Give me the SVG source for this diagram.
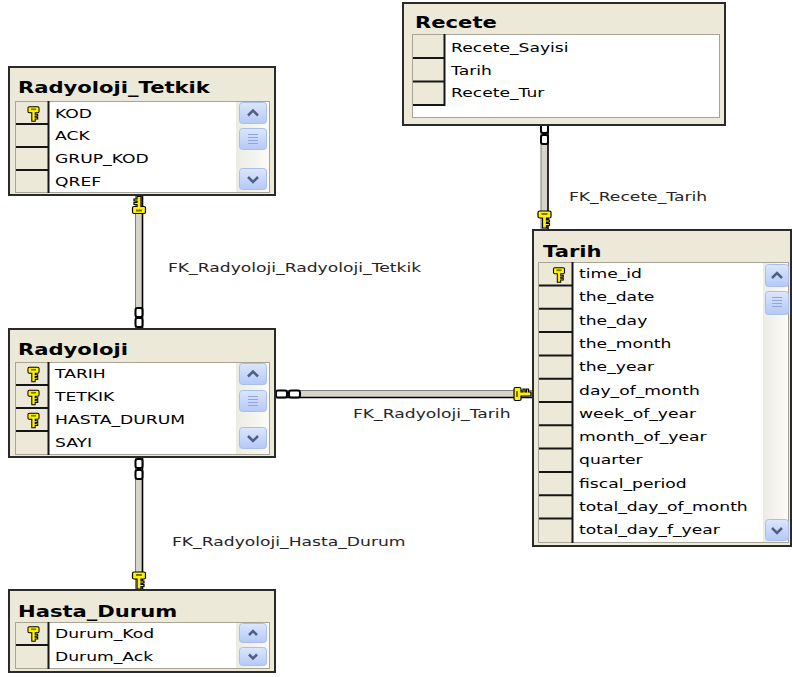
<svg xmlns="http://www.w3.org/2000/svg" xmlns:xlink="http://www.w3.org/1999/xlink" width="792" height="677" viewBox="0 0 792 677">
<defs>
<style>
.box{fill:#ECE9D8;stroke:#2a2a2a;stroke-width:2}
.grid{fill:#FFFFFF;stroke:#A8A596;stroke-width:1}
.kc{fill:#ECE9D8}
.sep{stroke:#161616;stroke-width:2}
.title{font-family:"DejaVu Sans","Liberation Sans",sans-serif;font-weight:bold;font-size:16px;fill:#000}
.row{font-family:"DejaVu Sans","Liberation Sans",sans-serif;font-size:13px;fill:#000}
.lbl{font-family:"DejaVu Sans","Liberation Sans",sans-serif;font-size:13px;fill:#262626}
.trk{fill:url(#trk)}
.btn{fill:url(#btn);stroke:#A9BEEB;stroke-width:1}
.arr{fill:none;stroke:#4D6185;stroke-width:2.5}
.grip{stroke:#8FA6DA;stroke-width:1}
.core{fill:#D7D4CB}
.edgeL{stroke:#808080;stroke-width:1}
.edgeD{stroke:#000;stroke-width:1.6}
.loop{fill:#FFFFFF;stroke:#000;stroke-width:2}
</style>
<linearGradient id="btn" x1="0" y1="0" x2="0" y2="1"><stop offset="0" stop-color="#DCE6FD"/><stop offset="1" stop-color="#B5C9F6"/></linearGradient>
<linearGradient id="trk" x1="0" y1="0" x2="1" y2="0"><stop offset="0" stop-color="#ECEBE3"/><stop offset="1" stop-color="#FBFBF8"/></linearGradient>
<g id="key"><path d="M-5,-8 h10 a1.5,1.5 0 0 1 1.5,1.5 v4 a1.5,1.5 0 0 1 -1.5,1.5 h-3 v2 h3 v2 h-3 v1.5 h3 v2 h-3 v2.5 h-4 v-10 h-3 a1.5,1.5 0 0 1 -1.5,-1.5 v-4 a1.5,1.5 0 0 1 1.5,-1.5 z" fill="#FFF200" stroke="#000" stroke-width="1.2"/><rect x="-3" y="-6" width="6" height="2" fill="#7a7400"/></g>
</defs>
<rect width="792" height="677" fill="#FFFFFF"/>

<g id="connectors">
  <!-- FK_Radyoloji_Radyoloji_Tetkik -->
  <rect class="core" x="135.5" y="195" width="7" height="134"/>
  <line class="edgeL" x1="135.5" y1="195" x2="135.5" y2="329"/>
  <line class="edgeD" x1="142.5" y1="195" x2="142.5" y2="329"/>
  <rect class="loop" x="135.5" y="308" width="7" height="9" rx="2"/>
  <rect class="loop" x="135.5" y="318" width="7" height="9" rx="2"/>
  <use xlink:href="#key" href="#key" transform="translate(139 205.5) rotate(180)"/>
  <text class="lbl" transform="translate(168 272) scale(1.32 1)">FK_Radyoloji_Radyoloji_Tetkik</text>

  <!-- FK_Recete_Tarih -->
  <rect class="core" x="541" y="125" width="7" height="105"/>
  <line class="edgeL" x1="541" y1="125" x2="541" y2="230"/>
  <line class="edgeD" x1="548" y1="125" x2="548" y2="230"/>
  <rect class="loop" x="541" y="124" width="7" height="9" rx="2"/>
  <rect class="loop" x="541" y="135" width="7" height="9" rx="2"/>
  <use xlink:href="#key" href="#key" transform="translate(544.5 219)"/>
  <text class="lbl" transform="translate(569 201) scale(1.32 1)">FK_Recete_Tarih</text>

  <!-- FK_Radyoloji_Tarih -->
  <rect class="core" x="275" y="390.5" width="258" height="7"/>
  <line class="edgeL" x1="275" y1="390.5" x2="533" y2="390.5"/>
  <line class="edgeD" x1="275" y1="397.5" x2="533" y2="397.5"/>
  <rect class="loop" x="276" y="390.5" width="11" height="7" rx="2"/>
  <rect class="loop" x="289" y="390.5" width="11" height="7" rx="2"/>
  <use xlink:href="#key" href="#key" transform="translate(522 394) rotate(-90)"/>
  <text class="lbl" transform="translate(353 418) scale(1.32 1)">FK_Radyoloji_Tarih</text>

  <!-- FK_Radyoloji_Hasta_Durum -->
  <rect class="core" x="135.5" y="457" width="7" height="133"/>
  <line class="edgeL" x1="135.5" y1="457" x2="135.5" y2="590"/>
  <line class="edgeD" x1="142.5" y1="457" x2="142.5" y2="590"/>
  <rect class="loop" x="135.5" y="459" width="7" height="9" rx="2"/>
  <rect class="loop" x="135.5" y="470" width="7" height="9" rx="2"/>
  <use xlink:href="#key" href="#key" transform="translate(139 580)"/>
  <text class="lbl" transform="translate(172 546) scale(1.32 1)">FK_Radyoloji_Hasta_Durum</text>
</g>

<g id="Radyoloji_Tetkik">
  <rect class="box" x="9" y="67" width="266" height="128"/>
  <text class="title" transform="translate(18 93) scale(1.32 1)">Radyoloji_Tetkik</text>
  <rect class="grid" x="15.5" y="101.5" width="254" height="91"/>
  <rect class="kc" x="16" y="102" width="32" height="90"/>
  <rect class="trk" x="236" y="102" width="33" height="90"/>
  <line class="sep" x1="48.5" y1="101" x2="48.5" y2="193"/>
  <line class="sep" x1="16" y1="124" x2="48" y2="124"/>
  <line class="sep" x1="16" y1="147" x2="48" y2="147"/>
  <line class="sep" x1="16" y1="170" x2="48" y2="170"/>
  <use xlink:href="#key" href="#key" transform="translate(33.5 113.5) scale(0.85)"/>
  <text class="row" transform="translate(55 117.5) scale(1.32 1)">KOD</text>
  <text class="row" transform="translate(55 140) scale(1.32 1)">ACK</text>
  <text class="row" transform="translate(55 163) scale(1.32 1)">GRUP_KOD</text>
  <text class="row" transform="translate(55 186) scale(1.32 1)">QREF</text>
  <rect class="btn" x="239.5" y="102.5" width="27" height="21" rx="3"/>
  <polyline class="arr" points="248,115.5 253,110.5 258,115.5"/>
  <rect class="btn" x="239.5" y="128.5" width="27" height="21" rx="3"/>
  <line class="grip" x1="248" y1="134.5" x2="258" y2="134.5"/><line class="grip" x1="248" y1="137.5" x2="258" y2="137.5"/><line class="grip" x1="248" y1="140.5" x2="258" y2="140.5"/><line class="grip" x1="248" y1="143.5" x2="258" y2="143.5"/>
  <rect class="btn" x="239.5" y="168.5" width="27" height="21" rx="3"/>
  <polyline class="arr" points="248,177 253,182 258,177"/>
</g>

<g id="Recete">
  <rect class="box" x="403" y="3" width="322" height="122"/>
  <text class="title" transform="translate(415 28) scale(1.32 1)">Recete</text>
  <rect class="grid" x="412.5" y="34.5" width="307" height="83"/>
  <rect class="kc" x="413" y="35" width="31" height="70"/>
  <line class="sep" x1="444.5" y1="34" x2="444.5" y2="106"/>
  <line class="sep" x1="413" y1="58" x2="444" y2="58"/>
  <line class="sep" x1="413" y1="81.5" x2="444" y2="81.5"/>
  <line class="sep" x1="413" y1="105" x2="444" y2="105"/>
  <text class="row" transform="translate(451 52) scale(1.32 1)">Recete_Sayisi</text>
  <text class="row" transform="translate(451 74.5) scale(1.32 1)">Tarih</text>
  <text class="row" transform="translate(451 97) scale(1.32 1)">Recete_Tur</text>
</g>

<g id="Tarih">
  <rect class="box" x="533" y="230" width="258" height="316"/>
  <text class="title" transform="translate(543 257) scale(1.32 1)">Tarih</text>
  <rect class="grid" x="538.5" y="262.5" width="250" height="280"/>
  <rect class="kc" x="539" y="263" width="33" height="279"/>
  <rect class="trk" x="763" y="263" width="25" height="279"/>
  <line class="sep" x1="572.5" y1="262" x2="572.5" y2="543"/>
  <line class="sep" x1="539" y1="285.5" x2="572" y2="285.5"/>
  <line class="sep" x1="539" y1="308.8" x2="572" y2="308.8"/>
  <line class="sep" x1="539" y1="332.1" x2="572" y2="332.1"/>
  <line class="sep" x1="539" y1="355.4" x2="572" y2="355.4"/>
  <line class="sep" x1="539" y1="378.7" x2="572" y2="378.7"/>
  <line class="sep" x1="539" y1="402" x2="572" y2="402"/>
  <line class="sep" x1="539" y1="425.3" x2="572" y2="425.3"/>
  <line class="sep" x1="539" y1="448.6" x2="572" y2="448.6"/>
  <line class="sep" x1="539" y1="471.9" x2="572" y2="471.9"/>
  <line class="sep" x1="539" y1="495.2" x2="572" y2="495.2"/>
  <line class="sep" x1="539" y1="518.5" x2="572" y2="518.5"/>
  <use xlink:href="#key" href="#key" transform="translate(559 274.5) scale(0.85)"/>
  <text class="row" transform="translate(579 278) scale(1.32 1)">time_id</text>
  <text class="row" transform="translate(579 301.3) scale(1.32 1)">the_date</text>
  <text class="row" transform="translate(579 324.6) scale(1.32 1)">the_day</text>
  <text class="row" transform="translate(579 347.9) scale(1.32 1)">the_month</text>
  <text class="row" transform="translate(579 371.2) scale(1.32 1)">the_year</text>
  <text class="row" transform="translate(579 394.5) scale(1.32 1)">day_of_month</text>
  <text class="row" transform="translate(579 417.8) scale(1.32 1)">week_of_year</text>
  <text class="row" transform="translate(579 441.1) scale(1.32 1)">month_of_year</text>
  <text class="row" transform="translate(579 464.4) scale(1.32 1)">quarter</text>
  <text class="row" transform="translate(579 487.7) scale(1.32 1)">fiscal_period</text>
  <text class="row" transform="translate(579 511) scale(1.32 1)">total_day_of_month</text>
  <text class="row" transform="translate(579 534.3) scale(1.32 1)">total_day_f_year</text>
  <rect class="btn" x="765.5" y="264.5" width="23" height="22" rx="3"/>
  <polyline class="arr" points="772,278 777,273 782,278"/>
  <rect class="btn" x="765.5" y="291.5" width="23" height="23" rx="3"/>
  <line class="grip" x1="772" y1="297.5" x2="782" y2="297.5"/><line class="grip" x1="772" y1="300.5" x2="782" y2="300.5"/><line class="grip" x1="772" y1="303.5" x2="782" y2="303.5"/><line class="grip" x1="772" y1="306.5" x2="782" y2="306.5"/>
  <rect class="btn" x="765.5" y="519.5" width="23" height="21" rx="3"/>
  <polyline class="arr" points="772,528 777,533 782,528"/>
</g>

<g id="Radyoloji">
  <rect class="box" x="9" y="329" width="266" height="128"/>
  <text class="title" transform="translate(18 355) scale(1.32 1)">Radyoloji</text>
  <rect class="grid" x="15.5" y="362.5" width="254" height="92"/>
  <rect class="kc" x="16" y="363" width="32" height="91"/>
  <rect class="trk" x="236" y="363" width="33" height="91"/>
  <line class="sep" x1="48.5" y1="362" x2="48.5" y2="455"/>
  <line class="sep" x1="16" y1="385" x2="48" y2="385"/>
  <line class="sep" x1="16" y1="408" x2="48" y2="408"/>
  <line class="sep" x1="16" y1="431" x2="48" y2="431"/>
  <use xlink:href="#key" href="#key" transform="translate(33.5 374) scale(0.85)"/>
  <use xlink:href="#key" href="#key" transform="translate(33.5 397) scale(0.85)"/>
  <use xlink:href="#key" href="#key" transform="translate(33.5 420) scale(0.85)"/>
  <text class="row" transform="translate(55 378) scale(1.32 1)">TARIH</text>
  <text class="row" transform="translate(55 401) scale(1.32 1)">TETKIK</text>
  <text class="row" transform="translate(55 424) scale(1.32 1)">HASTA_DURUM</text>
  <text class="row" transform="translate(55 447) scale(1.32 1)">SAYI</text>
  <rect class="btn" x="239.5" y="363.5" width="27" height="21" rx="3"/>
  <polyline class="arr" points="248,376.5 253,371.5 258,376.5"/>
  <rect class="btn" x="239.5" y="390.5" width="27" height="21" rx="3"/>
  <line class="grip" x1="248" y1="396.5" x2="258" y2="396.5"/><line class="grip" x1="248" y1="399.5" x2="258" y2="399.5"/><line class="grip" x1="248" y1="402.5" x2="258" y2="402.5"/><line class="grip" x1="248" y1="405.5" x2="258" y2="405.5"/>
  <rect class="btn" x="239.5" y="427.5" width="27" height="21" rx="3"/>
  <polyline class="arr" points="248,436 253,441 258,436"/>
</g>

<g id="Hasta_Durum">
  <rect class="box" x="9" y="590" width="266" height="82"/>
  <text class="title" transform="translate(18 617) scale(1.32 1)">Hasta_Durum</text>
  <rect class="grid" x="15.5" y="622.5" width="254" height="46"/>
  <rect class="kc" x="16" y="623" width="32" height="45"/>
  <rect class="trk" x="236" y="623" width="33" height="45"/>
  <line class="sep" x1="48.5" y1="622" x2="48.5" y2="669"/>
  <line class="sep" x1="16" y1="645" x2="48" y2="645"/>
  <use xlink:href="#key" href="#key" transform="translate(33.5 633.5) scale(0.85)"/>
  <text class="row" transform="translate(55 638) scale(1.32 1)">Durum_Kod</text>
  <text class="row" transform="translate(55 661) scale(1.32 1)">Durum_Ack</text>
  <rect class="btn" x="239.5" y="623.5" width="27" height="19" rx="3"/>
  <polyline class="arr" points="249,635 253,631 257,635"/>
  <rect class="btn" x="239.5" y="647.5" width="27" height="18" rx="3"/>
  <polyline class="arr" points="249,654.5 253,658.5 257,654.5"/>
</g>
</svg>
